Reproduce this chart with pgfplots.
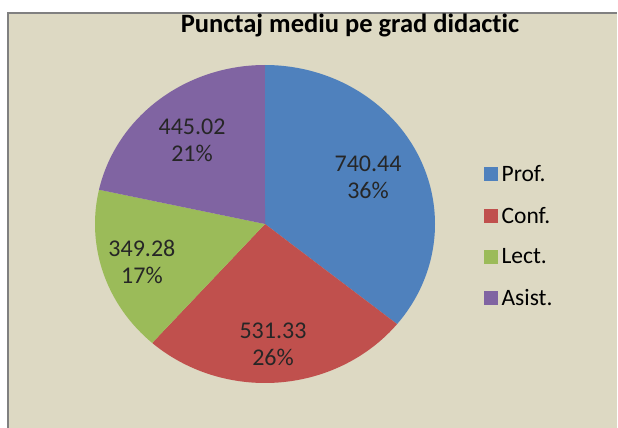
\documentclass[border=0pt]{standalone}
\usepackage{pgfplots}
\usepackage{pgfplotstable}
\pgfplotsset{compat=1.18}
\usepackage{fontspec}
\setmainfont[Ligatures=NoCommon]{Carlito}
\definecolor{bg}{HTML}{DDD9C3}
\definecolor{cprof}{HTML}{4F81BD}
\definecolor{cconf}{HTML}{C0504D}
\definecolor{clect}{HTML}{9BBB59}
\definecolor{casist}{HTML}{8064A2}
\definecolor{frame}{HTML}{808080}

\pgfplotstableread{
name value
Prof. 740.44
Conf. 531.33
Lect. 349.28
Asist. 445.02
}\piedata

\begin{document}
\begin{tikzpicture}
\pgfplotstablegetelem{0}{value}\of\piedata \let\va\pgfplotsretval
\pgfplotstablegetelem{1}{value}\of\piedata \let\vb\pgfplotsretval
\pgfplotstablegetelem{2}{value}\of\piedata \let\vc\pgfplotsretval
\pgfplotstablegetelem{3}{value}\of\piedata \let\vd\pgfplotsretval
\pgfmathsetmacro\tot{(\va+\vb+\vc+\vd)/100}
\pgfmathsetmacro\fa{(\va/100)/\tot}
\pgfmathsetmacro\fb{(\vb/100)/\tot}
\pgfmathsetmacro\fc{(\vc/100)/\tot}
\pgfmathsetmacro\fd{(\vd/100)/\tot}
\pgfmathsetmacro\aA{90-360*\fa}
\pgfmathsetmacro\aB{\aA-360*\fb}
\pgfmathsetmacro\aC{\aB-360*\fc}
\pgfmathsetmacro\aD{\aC-360*\fd}
\path[use as bounding box] (0,0) rectangle (618pt,428pt);
\fill[white] (0,0) rectangle (618pt,428pt);
\fill[bg] (8pt,0) rectangle (617pt,415pt);
\draw[frame, line width=1.6pt] (8pt,0) -- (8pt,415pt) -- (617pt,415pt);
\node[font=\bfseries\fontsize{26.5}{30}\selectfont, anchor=base, inner sep=0pt] at (350pt,395pt) {Punctaj mediu pe grad didactic};
\begin{axis}[
  at={(95pt,45pt)}, anchor=south west,
  scale only axis, width=340pt, height=318pt,
  xmin=-1, xmax=1, ymin=-1, ymax=1,
  axis lines=none, clip=false,
  legend style={draw=none, fill=none, at={(1.135,0.462)}, anchor=west,
    font=\fontsize{23.5}{28}\selectfont, row sep=22pt,
    nodes={inner ysep=1pt, inner xsep=3.5pt, anchor=base west}},
  legend cell align=left,
  legend image code/.code={\fill[#1] (-3pt,0pt) rectangle (11pt,14pt);},
]
\addplot[fill=cprof, draw=none, domain=\aA:90, samples=120, variable=\t] ({cos(t)},{sin(t)}) -- (0,0) -- cycle;
\addlegendentry{Prof.}
\addplot[fill=cconf, draw=none, domain=\aB:\aA, samples=100, variable=\t] ({cos(t)},{sin(t)}) -- (0,0) -- cycle;
\addlegendentry{Conf.}
\addplot[fill=clect, draw=none, domain=\aC:\aB, samples=80, variable=\t] ({cos(t)},{sin(t)}) -- (0,0) -- cycle;
\addlegendentry{Lect.}
\addplot[fill=casist, draw=none, domain=\aD:\aC, samples=90, variable=\t] ({cos(t)},{sin(t)}) -- (0,0) -- cycle;
\addlegendentry{Asist.}
\begin{scope}[every node/.style={align=center, text=black!85, font=\fontsize{24}{27}\selectfont}]
\node at (axis cs:0.606,0.296) {740.44\\36\%};
\node at (axis cs:0.047,-0.755) {531.33\\26\%};
\node at (axis cs:-0.724,-0.239) {349.28\\17\%};
\node at (axis cs:-0.429,0.528) {445.02\\21\%};
\end{scope}
\end{axis}
\end{tikzpicture}
\end{document}
